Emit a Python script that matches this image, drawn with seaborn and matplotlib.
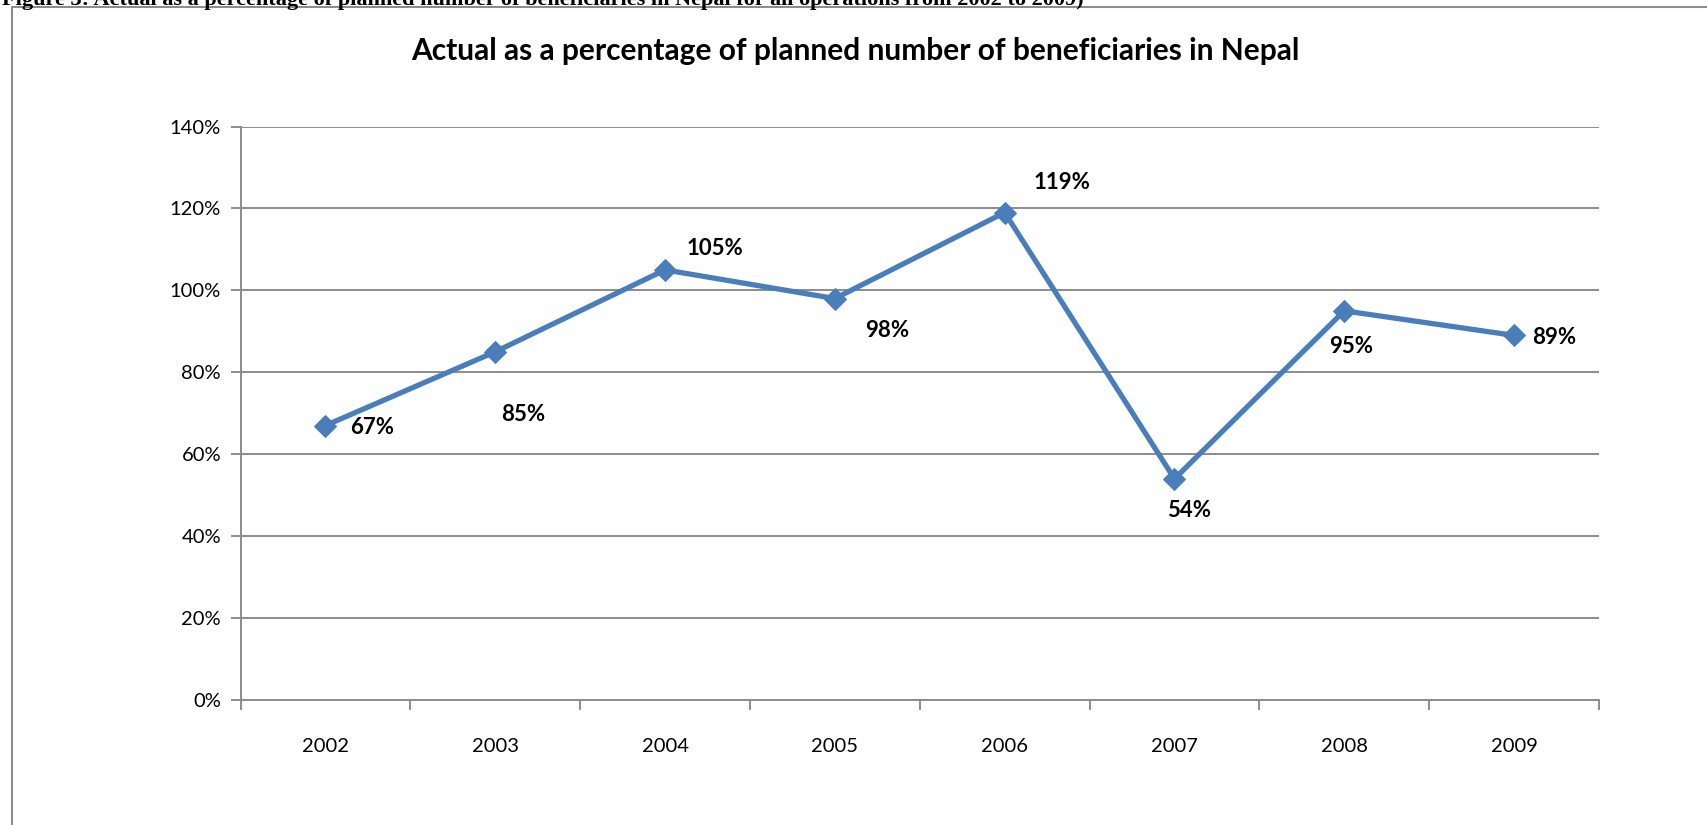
import matplotlib
matplotlib.use("Agg")
import matplotlib.pyplot as plt
from matplotlib.lines import Line2D
from matplotlib.ticker import FixedLocator, FuncFormatter
import seaborn as sns
import pandas as pd

# Data
years = ["2002", "2003", "2004", "2005", "2006", "2007", "2008", "2009"]
actual_pct = [67, 85, 105, 98, 119, 54, 95, 89]
label_texts = ["67%", "85%", "105%", "98%", "119%", "54%", "95%", "89%"]
y_ticks = [0, 20, 40, 60, 80, 100, 120, 140]

# Label offsets (pixels) relative to each point
label_offsets = [(47, -2), (28, -63), (50, 21), (52, -32), (57, 30), (15, -32), (7, -36), (40, -2)]

sns.set_theme(style="white")
plt.rcParams["font.family"] = ["Lato", "DejaVu Sans"]

DPI = 100
W, H = 1707, 825
fig = plt.figure(figsize=(W / DPI, H / DPI), dpi=DPI)
fig.patch.set_facecolor("white")

ax = fig.add_axes([240.5 / W, 1 - 700 / H, (1599 - 240.5) / W, (700 - 126.5) / H])

df = pd.DataFrame({"pos": range(len(years)), "pct": actual_pct})
line_color = "#4A7EBB"
sns.lineplot(data=df, x="pos", y="pct", ax=ax, color=line_color, linewidth=3.8,
             marker="D", markersize=11.5, markeredgecolor=line_color,
             markerfacecolor=line_color)

ax.set_xlim(-0.5, len(years) - 0.5)
ax.set_ylim(0, 140)

grid_color = "#8C8C8C"
ax.set_yticks(y_ticks)
ax.yaxis.set_major_formatter(FuncFormatter(lambda v, p: f"{int(v)}%"))
ax.yaxis.grid(True, color=grid_color, linewidth=1.4)
ax.xaxis.grid(False)
ax.set_axisbelow(True)

ax.set_xticks(range(len(years)))
ax.set_xticklabels(years)
ax.xaxis.set_minor_locator(FixedLocator([i - 0.5 for i in range(len(years) + 1)]))
ax.tick_params(axis="x", which="major", length=0, pad=27, labelsize=14.5, colors="black")
ax.tick_params(axis="x", which="minor", length=7, width=1.4, color=grid_color, direction="out", bottom=True)
ax.tick_params(axis="y", which="major", length=7, width=1.4, color=grid_color, direction="out",
               left=True, pad=7, labelsize=14.5, labelcolor="black")

for s in ["top", "right"]:
    ax.spines[s].set_visible(False)
for s in ["left", "bottom"]:
    ax.spines[s].set_color(grid_color)
    ax.spines[s].set_linewidth(1.4)

ax.set_xlabel("")
ax.set_ylabel("")

for i, (v, t) in enumerate(zip(actual_pct, label_texts)):
    dx, dy = label_offsets[i]
    ax.annotate(t, (i, v), xytext=(dx, dy), textcoords="offset pixels",
                ha="center", va="center", fontsize=16, fontweight="bold", color="black")

fig.text(855 / W, 1 - 51 / H, "Actual as a percentage of planned number of beneficiaries in Nepal",
         ha="center", va="center", fontsize=21.5, fontweight="bold", color="black")

# Figure caption (partly above the page edge) and chart frame
fig.text(2 / W, 1 - 5 / H,
         "Figure 3: Actual as a percentage of planned number of beneficiaries in Nepal for all operations from 2002 to 2009)",
         ha="left", va="baseline", fontsize=16, fontweight="bold", family="Liberation Serif", color="black")
fig.add_artist(Line2D([12 / W, 12 / W], [0, 1 - 7 / H], transform=fig.transFigure,
                      color="#8C8C8C", linewidth=1.5))
fig.add_artist(Line2D([12 / W, 1], [1 - 7 / H, 1 - 7 / H], transform=fig.transFigure,
                      color="#8C8C8C", linewidth=1.5))

fig.savefig("out.png", dpi=DPI, facecolor="white")
